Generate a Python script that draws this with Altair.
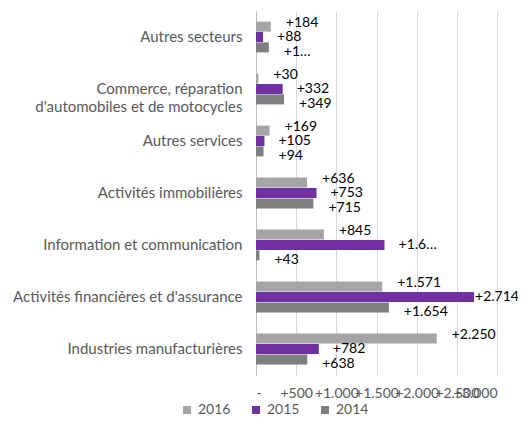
import altair as alt
import pandas as pd

categories = [
    "Autres secteurs",
    "Commerce, réparation|d'automobiles et de motocycles",
    "Autres services",
    "Activités immobilières",
    "Information et communication",
    "Activités financières et d'assurance",
    "Industries manufacturières",
]
series = ["2016", "2015", "2014"]
v2016 = [184, 30, 169, 636, 845, 1571, 2250]
v2015 = [88, 332, 105, 753, 1600, 2714, 782]
v2014 = [160, 349, 94, 715, 43, 1654, 638]
labels2016 = ["+184", "+30", "+169", "+636", "+845", "+1.571", "+2.250"]
labels2015 = ["+88", "+332", "+105", "+753", "+1.6…", "+2.714", "+782"]
labels2014 = ["+1…", "+349", "+94", "+715", "+43", "+1.654", "+638"]
colors = ["#A5A5A5", "#7030A0", "#7F7F7F"]

rows = []
for s, vals, labs in zip(series, [v2016, v2015, v2014], [labels2016, labels2015, labels2014]):
    for c, v, l in zip(categories, vals, labs):
        rows.append({"cat": c, "year": s, "value": v, "label": l})
df = pd.DataFrame(rows)

FONT = "Lato"

y_enc = alt.Y("cat:N", sort=categories, title=None,
              scale=alt.Scale(paddingInner=0.4, paddingOuter=0.2),
              axis=alt.Axis(labelExpr="split(datum.label, '|')", labelFontSize=15,
                            labelColor="#595959", labelFont=FONT, ticks=False,
                            domainColor="#BFBFBF", labelPadding=14, labelLimit=300,
                            labelLineHeight=18))
x_enc = alt.X("value:Q", title=None,
              scale=alt.Scale(domain=[0, 3000], nice=False),
              axis=alt.Axis(values=[0, 500, 1000, 1500, 2000, 2500, 3000],
                            labelExpr="datum.value == 0 ? '-' : '+' + replace(format(datum.value, ','), ',', '.')",
                            labelFontSize=14, labelColor="#595959", labelFont=FONT,
                            ticks=False, domain=False, gridColor="#D9D9D9",
                            labelPadding=11, labelOverlap=False))
color_enc = alt.Color("year:N", sort=series,
                      scale=alt.Scale(domain=series, range=colors),
                      legend=alt.Legend(title=None, orient="none", direction="horizontal",
                                        legendX=-76, legendY=392, symbolType="square",
                                        symbolSize=64, labelFontSize=14, labelFont=FONT,
                                        labelColor="#595959", columnPadding=18,
                                        labelOffset=4, symbolStrokeWidth=0))
yoff = alt.YOffset("year:N", sort=series, scale=alt.Scale(domain=series, paddingInner=0))

bars = alt.Chart(df).mark_bar(size=10).encode(y=y_enc, x=x_enc, color=color_enc, yOffset=yoff)

layers = [bars]
for s, dy, dx in zip(series, [-4, 0, 5], [15, 14, 15]):
    t = alt.Chart(df).transform_filter(
        (alt.datum.year == s) & (alt.datum.value < 2500)
    ).mark_text(
        align="left", baseline="middle", dx=dx, dy=dy, fontSize=14, font=FONT, color="#000000"
    ).encode(y=alt.Y("cat:N", sort=categories), x="value:Q", yOffset=yoff, text="label:N")
    layers.append(t)
# the longest bar's label sits tight against its end
far = alt.Chart(df).transform_filter(alt.datum.value >= 2500).mark_text(
    align="left", baseline="middle", dx=1, fontSize=14, font=FONT, color="#000000"
).encode(y=alt.Y("cat:N", sort=categories), x="value:Q", yOffset=yoff, text="label:N")
layers.append(far)

chart = alt.layer(*layers).properties(
    width=241, height=364,
    autosize=alt.AutoSizeParams(type="none"),
    padding={"left": 248, "top": 3, "right": 21, "bottom": 42},
).configure_view(stroke=None)

chart.save("out.html", embed_options={"renderer": "svg", "actions": False})
